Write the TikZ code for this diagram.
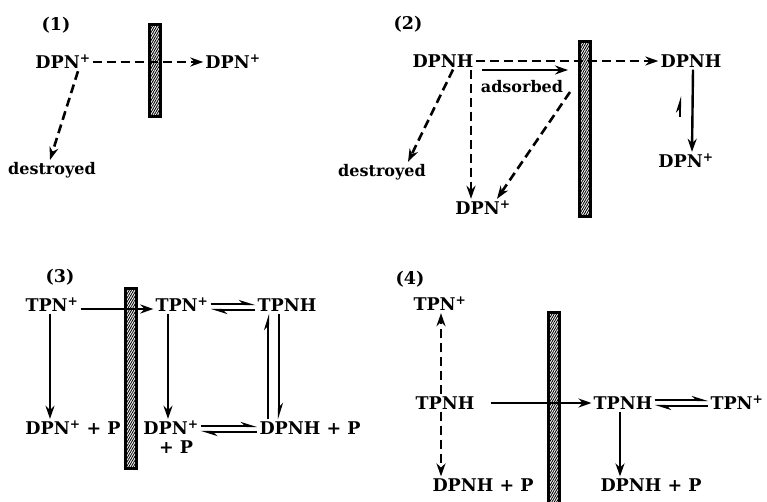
\documentclass[tikz,border=0pt]{standalone}
\usepackage{fontspec}
\setmainfont{DejaVu Serif}
\usetikzlibrary{arrows.meta,patterns.meta}
\begin{document}
\begin{tikzpicture}[x=1pt,y=-1pt,
  lbl/.style={font=\fontsize{17.5}{19}\selectfont\bfseries, inner sep=2pt},
  small/.style={font=\fontsize{16}{18}\selectfont\bfseries, inner sep=2pt},
  sarr/.style={-{Stealth[length=13pt,width=9pt]}, line width=2.4pt},
  darr/.style={-{Stealth[length=13pt,width=9pt]}, line width=2.6pt, dash pattern=on 9pt off 5pt},
  harp/.style={-{Stealth[harpoon,length=13pt,width=8pt]}, line width=2.4pt},
  barrier/.style={draw, line width=3pt, pattern={Lines[angle=60,distance=2pt,line width=0.9pt]}}
]
\useasboundingbox (0,0) rectangle (767,502);
% ---------- panel 1
\draw[barrier] (149,25) rectangle (160,117);
\node[lbl] (l1) at (56,25) {(1)};
\node[lbl] (a1) at (63,62) {DPN\textsuperscript{+}};
\node[lbl] (b1) at (233,62) {DPN\textsuperscript{+}};
\node[small] (d1) at (52,170) {destroyed};
\draw[darr] (a1.east) -- (b1.west);
\draw[darr] ([xshift=15pt]a1.south) -- ([xshift=-2pt]d1.north);
% ---------- panel 2
\draw[barrier] (579,42) rectangle (590,217);
\node[lbl] (l2) at (408,24) {(2)};
\node[lbl] (a2) at (443,61) {DPNH};
\node[lbl] (b2) at (691,61) {DPNH};
\node[lbl] (c2) at (686,161) {DPN\textsuperscript{+}};
\node[small] (d2) at (382,172) {destroyed};
\node[lbl] (e2) at (483,208) {DPN\textsuperscript{+}};
\node[small] (ad) at (522,87) {adsorbed};
\coordinate (s2) at (482,70);
\coordinate (t2) at (568,70);
\coordinate (u2) at (570,92);
\coordinate (h2a) at (680,117);
\coordinate (h2b) at (680,96);
\draw[darr] (a2.east) -- (b2.west);
\draw[sarr] (s2) -- (t2);
\draw[darr] ([xshift=10pt]a2.south) -- ([xshift=26pt]d2.north);
\draw[darr] ([xshift=28pt]a2.south) -- ([xshift=-12pt]e2.north);
\draw[darr] (u2) -- ([xshift=14pt]e2.north);
\draw[sarr] ([xshift=2pt]b2.south) -- ([xshift=6pt]c2.north);
\draw[harp] (h2a) -- (h2b);
% ---------- panel 3
\draw[barrier] (125,288) rectangle (136,468);
\node[lbl] (l3) at (60,277) {(3)};
\node[lbl] (a3) at (52,305) {TPN\textsuperscript{+}};
\node[lbl] (b3) at (182,305) {TPN\textsuperscript{+}};
\node[lbl] (c3) at (287,305) {TPNH};
\node[lbl] (d3) at (73,428) {DPN\textsuperscript{+} + P};
\node[lbl] (e3) at (171,428) {DPN\textsuperscript{+}};
\node[lbl] (e3b) at (176,447) {+ P};
\node[lbl] (f3) at (310,428) {DPNH + P};
\draw[sarr] ([yshift=-4pt]a3.east) -- ([yshift=-4pt]b3.west);
\draw[sarr] ([xshift=-2pt]a3.south) -- ([xshift=-23pt]d3.north);
\draw[sarr] ([xshift=-14pt]b3.south) -- ([xshift=-3pt]e3.north);
\draw[harp] ([yshift=1pt]b3.east) -- ([yshift=1pt]c3.west);
\draw[harp] ([yshift=-5pt]c3.west) -- ([yshift=-5pt]b3.east);
\draw[harp] ([yshift=2pt]e3.east) -- ([yshift=2pt]f3.west);
\draw[harp] ([yshift=-4pt]f3.west) -- ([yshift=-4pt]e3.east);
\draw[harp] ([xshift=-42pt]f3.north) -- ([xshift=-19pt]c3.south);
\draw[harp] ([xshift=-8pt]c3.south) -- ([xshift=-31pt]f3.north);
% ---------- panel 4
\draw[barrier] (548,312) rectangle (559,504);
\node[lbl] (l4) at (410,279) {(4)};
\node[lbl] (a4) at (440,304) {TPN\textsuperscript{+}};
\node[lbl] (b4) at (445,403) {TPNH};
\node[lbl] (c4) at (483,485) {DPNH + P};
\node[lbl] (d4) at (623,403) {TPNH};
\node[lbl] (e4) at (737,403) {TPN\textsuperscript{+}};
\node[lbl] (f4) at (651,485) {DPNH + P};
\draw[darr] ([xshift=-4pt]b4.north) -- ([xshift=1pt]a4.south);
\draw[darr] ([xshift=-4pt]b4.south) -- ([xshift=-42pt]c4.north);
\draw[sarr] ([xshift=14pt]b4.east) -- (d4.west);
\draw[harp] ([yshift=3pt]d4.east) -- ([yshift=3pt]e4.west);
\draw[harp] ([yshift=-3pt]e4.west) -- ([yshift=-3pt]d4.east);
\draw[sarr] ([xshift=-3pt]d4.south) -- ([xshift=-31pt]f4.north);
\end{tikzpicture}
\end{document}
